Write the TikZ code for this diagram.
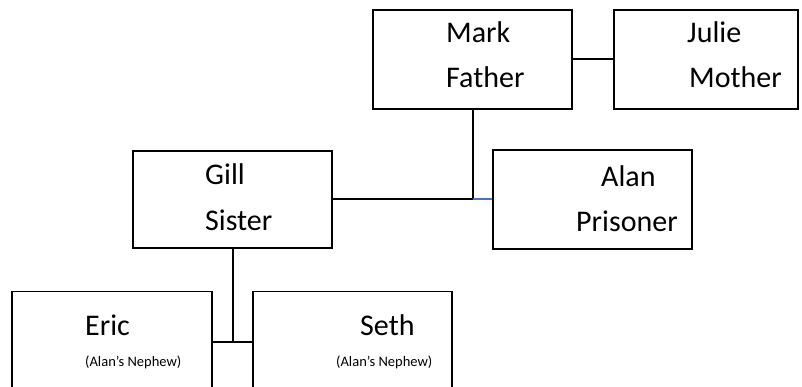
\documentclass[tikz,border=0pt]{standalone}
\usepackage{fontspec}
\setmainfont{Carlito}
\begin{document}
\begin{tikzpicture}[x=1pt,y=-1pt,
  person/.style={draw=black,line width=1.6pt,rectangle,inner sep=0pt,fill=white},
  bigname/.style={anchor=base west,inner sep=0pt,font=\fontsize{30}{36}\selectfont},
  smallnote/.style={anchor=base west,inner sep=0pt,font=\fontsize{14.5}{17}\selectfont},
  link/.style={draw=black,line width=2pt},
  bluelink/.style={draw={rgb,255:red,68;green,114;blue,196},line width=2pt}]
\useasboundingbox[fill=white] (0,0) rectangle (802,387);
\clip (0,0) rectangle (802,387);

% family members
\node[person,minimum width=199pt,minimum height=99pt] (mark) at (472.5,59.5) {};
\node[person,minimum width=184pt,minimum height=99pt] (julie) at (706,59.5) {};
\node[person,minimum width=199pt,minimum height=97pt] (gill) at (232.5,199.5) {};
\node[person,minimum width=199pt,minimum height=99pt] (alan) at (592.5,199.5) {};
\node[person,minimum width=200pt,minimum height=100pt] (eric) at (112,341.5) {};
\node[person,minimum width=199pt,minimum height=100pt] (seth) at (352.5,341.5) {};

% names and roles
\node[bigname] (markname) at (446,43) {Mark};
\node[bigname] (markrole) at (446,88) {Father};
\node[bigname] (juliename) at (687,43) {Julie};
\node[bigname] (julierole) at (689,88) {Mother};
\node[bigname] (gillname) at (205,185) {Gill};
\node[bigname] (gillrole) at (205,230) {Sister};
\node[bigname] (alanname) at (601,187) {Alan};
\node[bigname] (alanrole) at (576,231) {Prisoner};
\node[bigname] (ericname) at (85,335) {Eric};
\node[smallnote] (ericnote) at (85,366) {(Alan’s Nephew)};
\node[bigname] (sethname) at (360,335) {Seth};
\node[smallnote] (sethnote) at (336,366) {(Alan’s Nephew)};

% connectors
\coordinate (drop) at (mark.south |- gill.east);
\draw[link] (mark.east) -- (julie.west);
\draw[link] (mark.south) -- (drop);
\draw[link] (gill.east) -- (drop);
\draw[bluelink] (drop) -- (alan.west);
\draw[link] (gill.south) -- (gill.south |- eric.east);
\draw[link] (eric.east) -- (seth.west);
\end{tikzpicture}
\end{document}
